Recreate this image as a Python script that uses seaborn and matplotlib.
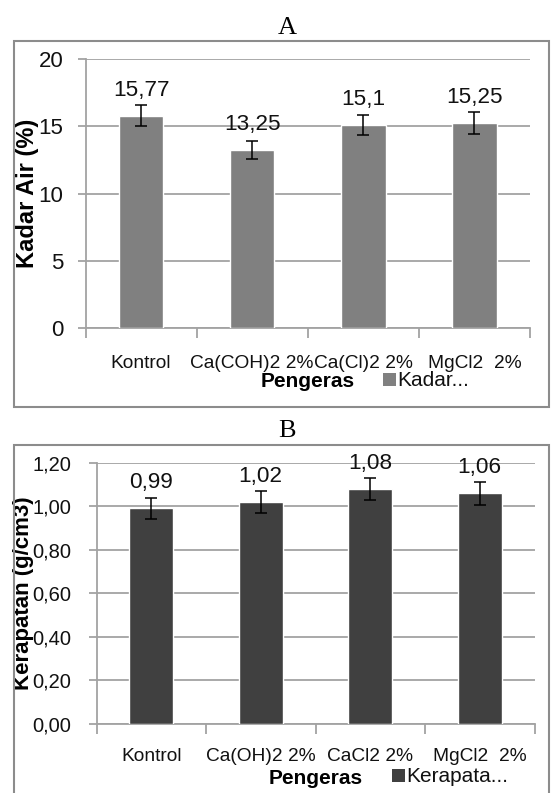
import matplotlib
matplotlib.use("Agg")
import matplotlib.pyplot as plt
import seaborn as sns
import numpy as np
import pandas as pd
from matplotlib.patches import Rectangle, Patch
from matplotlib.ticker import FuncFormatter

# ---------------- data ----------------
cat_a = ["Kontrol", "Ca(COH)2 2%", "Ca(Cl)2 2%", "MgCl2  2%"]
kadar_air = [15.77, 13.25, 15.10, 15.25]
kadar_air_err = [0.78, 0.68, 0.77, 0.79]
yticks_a = [0, 5, 10, 15, 20]

cat_b = ["Kontrol", "Ca(OH)2 2%", "CaCl2 2%", "MgCl2  2%"]
kerapatan = [0.99, 1.02, 1.08, 1.06]
kerapatan_err = [0.049, 0.052, 0.050, 0.053]
yticks_b = [0.0, 0.2, 0.4, 0.6, 0.8, 1.0, 1.2]

title_a, title_b = "A", "B"
ylabel_a, ylabel_b = "Kadar Air (%)", "Kerapatan (g/cm3)"
xlabel = "Pengeras"
legend_a, legend_b = "Kadar...", "Kerapata..."

# ---------------- style ----------------
sns.set_theme(style="white")
plt.rcParams["font.family"] = ["Liberation Sans", "DejaVu Sans"]

W, H, DPI = 552, 793, 100
PX = 72.0 / DPI  # points per pixel

def fx(px):
    return px / W

def fy(py):
    return 1 - py / H

GRID = "#a3a3a3"
FRAME = "#8c8c8c"
TXT = "#111111"
FONT = ["Liberation Sans", "DejaVu Sans"]

fig = plt.figure(figsize=(W / DPI, H / DPI), dpi=DPI, facecolor="white")

# outer frames
fig.add_artist(Rectangle((fx(13.5), fy(407)), (549 - 13.5) / W, (407 - 41) / H,
                         transform=fig.transFigure, fill=False, ec=FRAME, lw=1.5))
fig.add_artist(Rectangle((fx(13.5), fy(810)), (549 - 13.5) / W, (810 - 445) / H,
                         transform=fig.transFigure, fill=False, ec=FRAME, lw=1.5))

fig.text(fx(287), fy(34), title_a, ha="center", va="baseline",
         family=["Liberation Serif", "DejaVu Serif"], fontsize=19, color="black")
fig.text(fx(287), fy(437), title_b, ha="center", va="baseline",
         family=["Liberation Serif", "DejaVu Serif"], fontsize=19, color="black")


def panel(rect_px, cats, vals, errs, yticks, color, fmt, ylab, ylab_size, ytick_size,
          ylab_x, xlab_y, xtick_pad, ytick_pad, leg_text, leg_xy):
    left, right, top, bottom = rect_px
    ax = fig.add_axes([fx(left), fy(bottom), (right - left) / W, (bottom - top) / H])
    df = pd.DataFrame({"cat": cats, "val": vals})
    sns.barplot(data=df, x="cat", y="val", color=color, saturation=1, width=0.4,
                errorbar=None, ax=ax, zorder=3)
    ax.errorbar(np.arange(len(vals)), vals, yerr=errs, fmt="none", ecolor="black",
                elinewidth=1.1, capsize=4, capthick=1.1, zorder=4)
    for i, v in enumerate(vals):
        ax.annotate(fmt(v), (i, v), xytext=(0, 20 * PX), textcoords="offset points",
                    ha="center", va="baseline", fontsize=16.2, family=FONT, color=TXT)
    ax.set_xlim(-0.5, len(cats) - 0.5)
    ax.set_ylim(yticks[0], yticks[-1])
    ax.set_yticks(yticks)
    ax.yaxis.set_major_formatter(FuncFormatter(lambda v, p: fmt(v, tick=True)))
    ax.yaxis.grid(True, color=GRID, lw=1.3)
    ax.set_axisbelow(True)
    sns.despine(ax=ax)
    for s in ("left", "bottom"):
        ax.spines[s].set_color(GRID)
        ax.spines[s].set_linewidth(1.3)
    ax.set_xticks(np.arange(len(cats)))
    ax.set_xticklabels(cats)
    ax.set_xticks(np.arange(-0.5, len(cats), 1.0), minor=True)
    ax.tick_params(axis="x", which="major", bottom=True, length=0, pad=xtick_pad,
                   labelsize=13.8, labelcolor=TXT)
    ax.tick_params(axis="x", which="minor", bottom=True, length=10 * PX, width=1.3,
                   color=GRID, direction="out")
    ax.tick_params(axis="y", which="major", left=True, length=8 * PX, width=1.3,
                   color=GRID, direction="out", pad=ytick_pad, labelsize=ytick_size,
                   labelcolor=TXT)
    ax.set_ylabel(ylab, fontsize=ylab_size, fontweight="bold", family=FONT, color="black")
    ax.yaxis.set_label_coords(ylab_x, 0.5)
    ax.yaxis.label.set_va("center")
    ax.set_xlabel(xlabel, fontsize=15, fontweight="bold", family=FONT, color="black")
    ax.xaxis.set_label_coords(0.5, xlab_y)
    ax.xaxis.label.set_va("baseline")
    fig.legend(handles=[Patch(facecolor=color, edgecolor="none")], labels=[leg_text],
               loc="center left", bbox_to_anchor=(fx(leg_xy[0]), fy(leg_xy[1])),
               frameon=False, handlelength=0.6, handleheight=0.6, handletextpad=0.1,
               borderpad=0, borderaxespad=0,
               prop={"family": FONT, "size": 15}, labelcolor=TXT)
    return ax


def fmt_a(v, tick=False):
    if tick:
        return f"{v:g}"
    return f"{v:g}".replace(".", ",")


def fmt_b(v, tick=False):
    return f"{v:.2f}".replace(".", ",")


# panel A: left, right, top(y=max), bottom(y=0) in pixels
panel((85.5, 530, 59, 328), cat_a, kadar_air, kadar_air_err, yticks_a, "#808080",
      fmt_a, ylabel_a, 17, 16, (28 - 85.5) / 444.5, (328 - 387) / 269.0,
      19.5, 10, legend_a, (383, 381))

panel((96.5, 534.5, 462.7, 724), cat_b, kerapatan, kerapatan_err, yticks_b, "#404040",
      fmt_b, ylabel_b, 16, 14.5, (23.5 - 96.5) / 438.0, (724 - 784) / 261.3,
      17.5, 12.5, legend_b, (392, 777))

fig.savefig("out.png", dpi=DPI, facecolor="white")
